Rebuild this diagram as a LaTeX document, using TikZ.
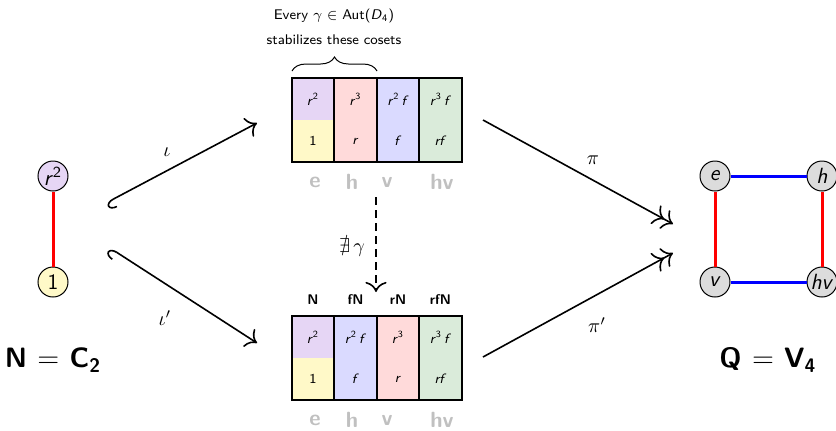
\documentclass[tikz,border=0pt]{standalone}
\usepackage{amssymb}
\usetikzlibrary{arrows.meta,decorations.pathreplacing}
\renewcommand{\familydefault}{\sfdefault}

\definecolor{clav}{HTML}{E6D6F5}
\definecolor{cyel}{HTML}{FFF9C8}
\definecolor{cpink}{HTML}{FFDADA}
\definecolor{cblue}{HTML}{DADAFF}
\definecolor{cgreen}{HTML}{DAEBDA}
\definecolor{cnode}{HTML}{DCDCDC}
\definecolor{ctag}{HTML}{C0C0C0}

% group elements are set in slanted sans
\newcommand{\elt}[1]{\textit{#1}}
\newcommand{\pw}[1]{\textsuperscript{#1}}

\tikzset{
  col/.style={rectangle, draw=black, line width=1.1pt, minimum width=21.25pt,
    minimum height=42pt, inner sep=0pt},
  celltxt/.style={font=\fontsize{6.8}{8}\selectfont, inner sep=0pt},
  coltag/.style={font=\fontsize{7}{8}\selectfont\bfseries, inner sep=0pt},
  tagtxt/.style={font=\fontsize{11}{13}\selectfont\bfseries, text=ctag, inner sep=0pt},
  vert/.style={circle, draw=black, line width=0.5pt, minimum size=15pt, inner sep=0pt,
    font=\fontsize{11}{13}\selectfont},
  mapline/.style={line width=0.8pt},
  tipto/.style={-{Computer Modern Rightarrow[scale=1.5]}},
  tipepi/.style={-{Computer Modern Rightarrow[scale=1.5]Computer Modern Rightarrow[scale=1.5]}},
  tipmono/.style={{Hooks[left,length=4pt,width=9pt]}-{Computer Modern Rightarrow[scale=1.5]}},
  redge/.style={red, line width=1.5pt},
  bedge/.style={blue, line width=1.5pt},
  cosetpair/.style={path picture={\fill[clav] (path picture bounding box.north west) rectangle (path picture bounding box.east);}},
}

\begin{document}
\begin{tikzpicture}[x=0.5pt, y=-0.5pt]
\useasboundingbox (0,0) rectangle (836,430);

% ---- N = C_2 ----
\node[vert, fill=clav] (n2) at (53,176) {\elt{r}\pw{2}};
\node[vert, fill=cyel] (n1) at (53,282) {1};
\draw[redge] (n2) -- (n1);
\node (nlab) at (53,360) {\fontsize{14}{16}\selectfont\bfseries N $=$ C\textsubscript{2}};

% ---- Q = V_4 ----
\node[vert, fill=cnode] (qe) at (715,176) {\elt{e}};
\node[vert, fill=cnode] (qh) at (822,176) {\elt{h}};
\node[vert, fill=cnode] (qv) at (715,282) {\elt{v}};
\node[vert, fill=cnode] (qhv) at (822,282) {\elt{hv}};
\draw[bedge] (qe) -- (qh);
\draw[bedge] (qv) -- (qhv);
\draw[redge] (qe) -- (qv);
\draw[redge] (qh) -- (qhv);
\node (qlab) at (768,360) {\fontsize{14}{16}\selectfont\bfseries Q $=$ V\textsubscript{4}};

% ---- upper coset table ----
\node[col, fill=cyel, cosetpair] (t1) at (313,120) {};
\node[col, fill=cpink] (t2) at (355.5,120) {};
\node[col, fill=cblue] (t3) at (398,120) {};
\node[col, fill=cgreen] (t4) at (440.5,120) {};
\node[celltxt] (t1a) at (313,99) {\elt{r}\pw{2}};
\node[celltxt] (t1b) at (313,141) {1};
\node[celltxt] (t2a) at (355.5,99) {\elt{r}\pw{3}};
\node[celltxt] (t2b) at (355.5,141) {\elt{r}};
\node[celltxt] (t3a) at (398,99) {\elt{r}\pw{2}\,\elt{f}};
\node[celltxt] (t3b) at (398,141) {\elt{f}};
\node[celltxt] (t4a) at (440.5,99) {\elt{r}\pw{3}\,\elt{f}};
\node[celltxt] (t4b) at (440.5,141) {\elt{rf}};
\node[tagtxt] (te) at (315,182) {e};
\node[tagtxt] (th) at (352,182) {h};
\node[tagtxt] (tv) at (387,182) {v};
\node[tagtxt] (thv) at (442,182) {hv};

% brace over the first two columns
\coordinate (brL) at (292,71);
\coordinate (brR) at (377,71);
\draw[line width=0.5pt, decorate, decoration={brace, amplitude=7pt}] (brL) -- (brR);
\node[font=\fontsize{7}{8}\selectfont] (cap1) at (334,16) {Every $\gamma\in{}$Aut(\elt{D}\textsubscript{4})};
\node[font=\fontsize{7}{8}\selectfont] (cap2) at (334,40) {stabilizes these cosets};

% ---- lower coset table ----
\node[col, fill=cyel, cosetpair] (b1) at (313,358) {};
\node[col, fill=cblue] (b2) at (355.5,358) {};
\node[col, fill=cpink] (b3) at (398,358) {};
\node[col, fill=cgreen] (b4) at (440.5,358) {};
\node[celltxt] (b1a) at (313,337) {\elt{r}\pw{2}};
\node[celltxt] (b1b) at (313,379) {1};
\node[celltxt] (b2a) at (355.5,337) {\elt{r}\pw{2}\,\elt{f}};
\node[celltxt] (b2b) at (355.5,379) {\elt{f}};
\node[celltxt] (b3a) at (398,337) {\elt{r}\pw{3}};
\node[celltxt] (b3b) at (398,379) {\elt{r}};
\node[celltxt] (b4a) at (440.5,337) {\elt{r}\pw{3}\,\elt{f}};
\node[celltxt] (b4b) at (440.5,379) {\elt{rf}};
\node[coltag] (bn) at (313,300) {N};
\node[coltag] (bfn) at (355.5,300) {fN};
\node[coltag] (brn) at (398,300) {rN};
\node[coltag] (brfn) at (440.5,300) {rfN};
\node[tagtxt] (be) at (315,420) {e};
\node[tagtxt] (bh) at (352,420) {h};
\node[tagtxt] (bv) at (387,420) {v};
\node[tagtxt] (bhv) at (442,420) {hv};

% ---- maps ----
\coordinate (iS) at (106,203);
\coordinate (iE) at (257,123);
\coordinate (jS) at (110,248);
\coordinate (jE) at (257,343);
\coordinate (pS) at (483,120);
\coordinate (pE) at (673,224);
\coordinate (qS) at (483,357);
\coordinate (qE) at (673,253);
\coordinate (gS) at (376,197);
\coordinate (gE) at (376,292);

\draw[mapline, tipmono] (iS) -- (iE);
\draw[mapline, tipmono] (jS) -- (jE);
\draw[mapline, tipepi] (pS) -- (pE);
\draw[mapline, tipepi] (qS) -- (qE);
\draw[mapline, tipto, dash pattern=on 4pt off 2.5pt] (gS) -- (gE);

\node (liota) at (167,152) {$\iota$};
\node (liota2) at (165,318) {$\iota'$};
\node (lpi) at (593,160) {$\pi$};
\node (lpi2) at (597,325) {$\pi'$};
\node (lgam) at (352,248) {$\nexists\,\gamma$};
\end{tikzpicture}
\end{document}
